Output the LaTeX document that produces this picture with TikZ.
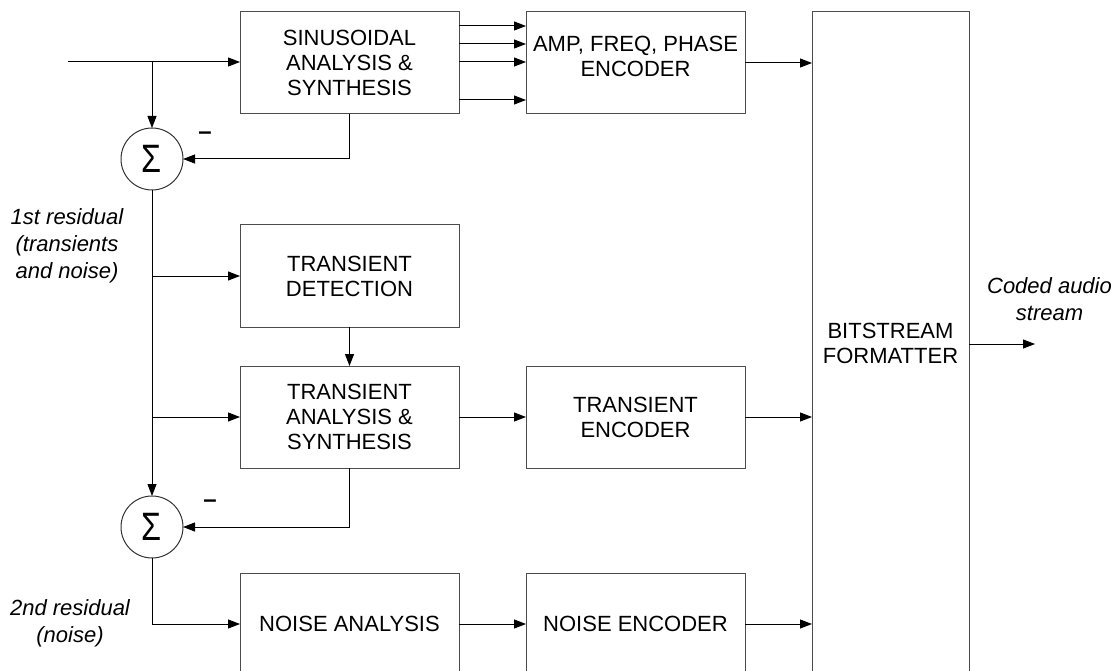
\documentclass[tikz,border=0pt]{standalone}
\usepackage{fontspec}
\usepackage{graphicx}
\setmainfont{Liberation Sans}
\usetikzlibrary{arrows.meta,calc}
\newcommand{\sumsign}{\scalebox{0.9}[1.1]{Σ}}
\begin{document}
\begin{tikzpicture}[x=1pt,y=-1pt,
  blk/.style={draw=black!70,line width=1pt,inner sep=0pt,outer sep=0pt,align=center,
    minimum width=219pt,minimum height=102pt,font=\fontsize{22}{25}\selectfont},
  sumnode/.style={draw=black!80,line width=1pt,circle,minimum size=62pt,inner sep=0pt,outer sep=0pt,
    font=\fontsize{36}{36}\selectfont},
  sig/.style={line width=1pt,-{Triangle[length=12pt,width=9pt]}},
  note/.style={align=center,font=\fontsize{22}{27}\selectfont\itshape},
  lbl/.style={align=center,font=\fontsize{22}{25}\selectfont},
  minus/.style={inner sep=0pt,font=\fontsize{24}{25}\selectfont\bfseries},
]
\useasboundingbox (0,0) rectangle (1119,671);
\clip (0,0) rectangle (1119,671);

% processing blocks
\node[blk] (sin) at (349.5,63) {SINUSOIDAL\\ANALYSIS \&\\SYNTHESIS};
\node[blk] (amp) at (635.5,63) {};
\node[lbl] (amptxt) at (635.5,56) {AMP, FREQ, PHASE\\ENCODER};
\node[blk] (det) at (349.5,276) {TRANSIENT\\DETECTION};
\node[blk] (ana) at (349.5,417) {TRANSIENT\\ANALYSIS \&\\SYNTHESIS};
\node[blk] (tenc) at (635.5,417) {TRANSIENT\\ENCODER};
\node[blk] (nana) at (349.5,624) {NOISE ANALYSIS};
\node[blk] (nenc) at (635.5,624) {NOISE ENCODER};
\node[blk,minimum width=157pt,minimum height=662pt] (bits) at (890.5,343) {BITSTREAM\\FORMATTER};

% summing junctions
\node[sumnode] (s1) at (152,159) {\sumsign};
\node[sumnode] (s2) at (152,527) {\sumsign};
\node[minus] (m1) at (205,136) {\textendash};
\node[minus] (m2) at (210,504) {\textendash};

% annotations
\node[note] (r1) at (67,246) {1st residual\\(transients\\and noise)};
\node[note] (r2) at (70,623.5) {2nd residual\\(noise)};
\node[note] (cas) at (1049.5,299.5) {Coded audio\\stream};

% signal flow
\coordinate (in) at (68,62);
\coordinate (out) at (1035,344);
\draw[sig] (in) -- (in -| sin.west);
\draw[sig] (in -| s1) -- (s1.north);
\draw[sig] (sin.south) -- (sin.south |- s1) -- (s1.east);
\foreach \yy in {26,44,62,100}
  \draw[sig] (sin.east |- 0,\yy) -- (amp.west |- 0,\yy);
\draw[sig] (amp.east) -- (amp.east -| bits.west);

\draw[sig] (s1.south) -- (s2.north);
\draw[sig] (s1.south |- det.west) -- (det.west);
\draw[sig] (s1.south |- ana.west) -- (ana.west);
\draw[sig] (det.south) -- (ana.north);
\draw[sig] (ana.south) -- (ana.south |- s2) -- (s2.east);
\draw[sig] (ana.east) -- (tenc.west);
\draw[sig] (tenc.east) -- (tenc.east -| bits.west);

\draw[sig] (s2.south) |- (nana.west);
\draw[sig] (nana.east) -- (nenc.west);
\draw[sig] (nenc.east) -- (nenc.east -| bits.west);

\draw[sig] (bits.east |- out) -- (out);
\end{tikzpicture}
\end{document}
